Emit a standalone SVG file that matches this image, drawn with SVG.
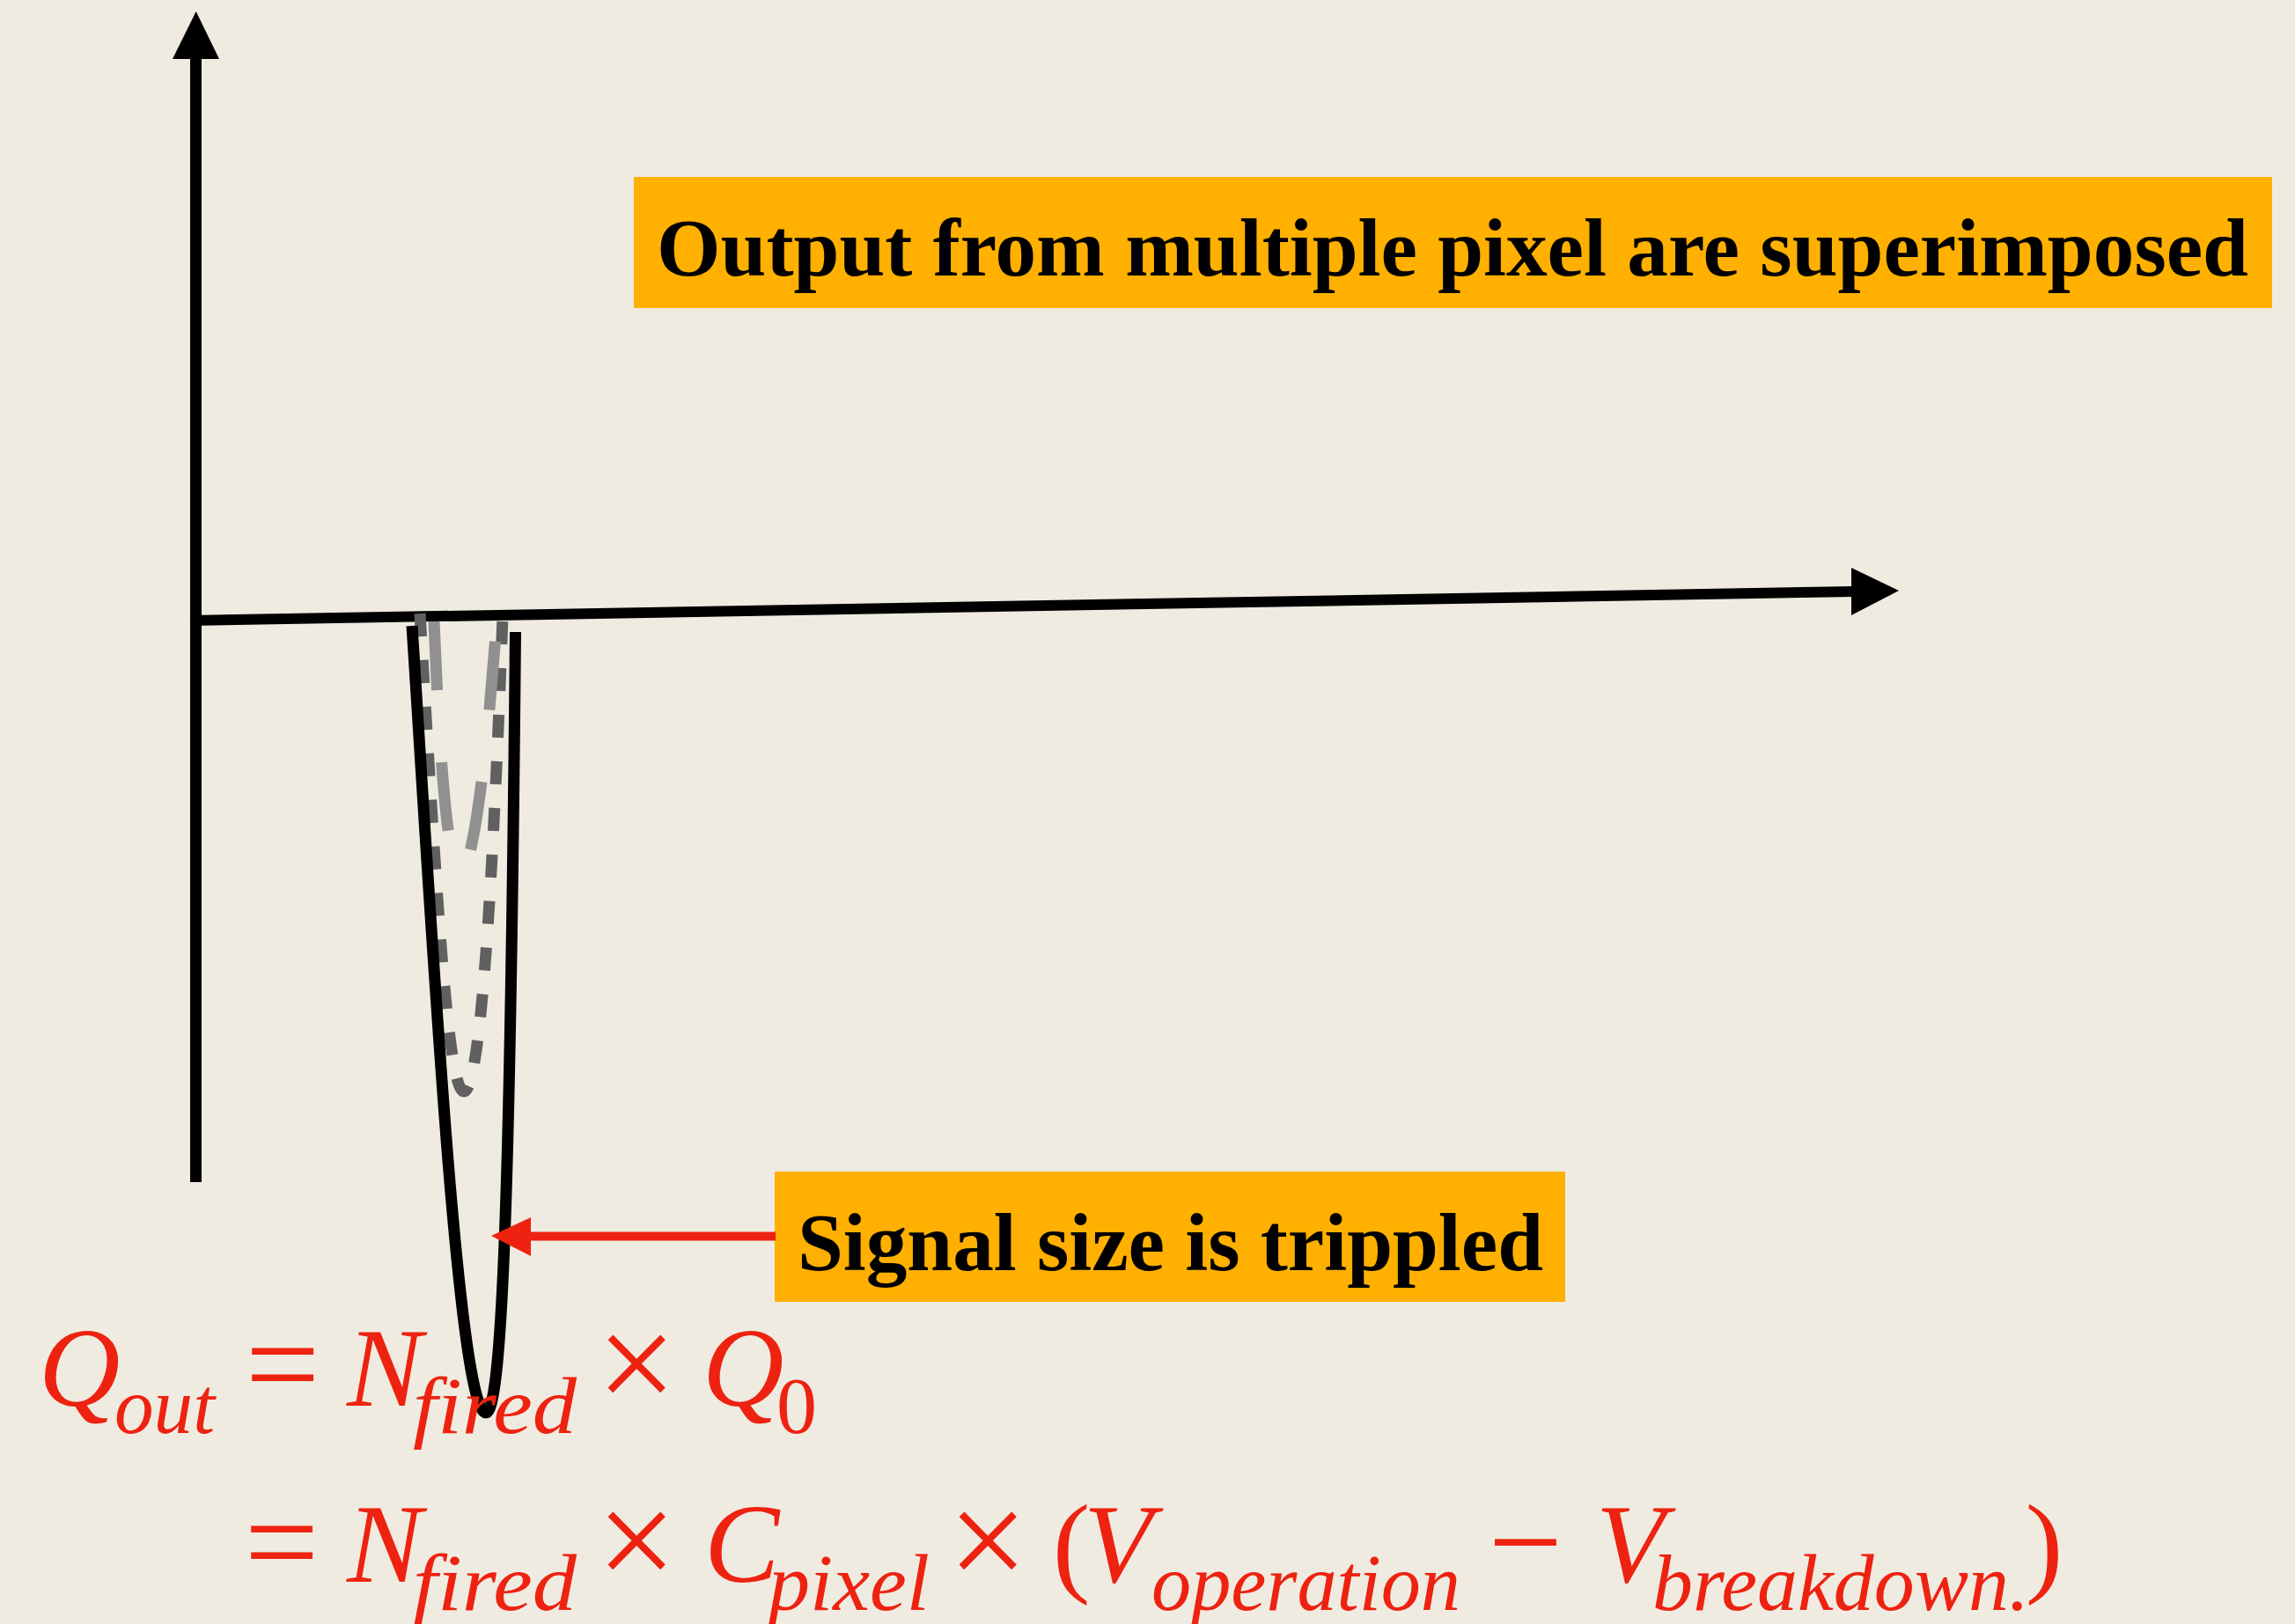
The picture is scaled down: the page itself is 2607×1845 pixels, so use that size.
<svg xmlns="http://www.w3.org/2000/svg" width="2607" height="1845" viewBox="0 0 2607 1845">
<style>
.ax{stroke:#000;stroke-width:12;fill:none}
.head{fill:#000}
.lbl{font-family:"Liberation Serif",serif;font-weight:bold;fill:#000}
.box{fill:#FFB000}
.m{font-family:"Liberation Serif",serif;font-style:italic;fill:#EE2210;font-size:128px}
.s{font-family:"Liberation Serif",serif;font-style:italic;fill:#EE2210;font-size:92px}
.op{font-family:"Liberation Serif",serif;fill:#EE2210;font-size:150px;text-anchor:middle}
.x{font-family:"Liberation Serif",serif;fill:#EE2210;font-size:160px;text-anchor:middle}
.p{font-family:"Liberation Serif",serif;fill:#EE2210;font-size:128px;text-anchor:middle}
</style>
<rect width="2607" height="1845" fill="#EFEBE1"/>
<g id="axes">
<line class="ax" x1="222.5" y1="60" x2="222.5" y2="1343" style="stroke-width:13"/>
<polygon class="head" points="196,67 249,67 222.7,13"/>
<line class="ax" x1="216" y1="705" x2="2106" y2="672"/>
<polygon class="head" points="2103,645 2103,699 2157,671"/>
</g>
<g id="pulses">
<path d="M477,697 C495,1000 508,1240 527,1240 C546,1240 560,1000 571,700" fill="none" stroke="#606060" stroke-width="13" stroke-dasharray="26 27"/>
<path d="M493,706 C500,880 510,992 523,992 C536,992 552,870 563,722" fill="none" stroke="#909090" stroke-width="13" stroke-dasharray="78 82"/>
<path d="M468,711 C490,1050 520,1605 552,1605 C572,1605 580,1300 585.5,718" fill="none" stroke="#000" stroke-width="13"/>
</g>
<g id="label-top">
<rect class="box" x="720" y="201" width="1861" height="149"/>
<text class="lbl" x="746" y="313" font-size="94" textLength="1808" lengthAdjust="spacingAndGlyphs">Output from multiple pixel are superimposed</text>
</g>
<g id="label-signal">
<rect class="box" x="880" y="1331" width="898" height="148"/>
<text class="lbl" x="906" y="1443" font-size="94" textLength="847" lengthAdjust="spacingAndGlyphs">Signal size is trippled</text>
</g>
<g id="connectors">
<line x1="600" y1="1404.5" x2="881" y2="1404.5" stroke="#EE2210" stroke-width="10"/>
<polygon points="558,1404 603,1383 603,1427" fill="#EE2210"/>
</g>
<g id="formula">
<text class="m" x="44" y="1597">Q</text>
<text class="s" x="130" y="1628" textLength="114" lengthAdjust="spacingAndGlyphs">out</text>
<text class="op" x="321" y="1600">=</text>
<text class="m" x="394" y="1597">N</text>
<text class="s" x="469" y="1628" textLength="186" lengthAdjust="spacingAndGlyphs">fired</text>
<text class="x" x="723" y="1603">×</text>
<text class="m" x="798" y="1597">Q</text>
<text class="s" x="882" y="1628" style="font-style:normal">0</text>
<text class="op" x="320" y="1802">=</text>
<text class="m" x="394" y="1797">N</text>
<text class="s" x="469" y="1829" textLength="186" lengthAdjust="spacingAndGlyphs">fired</text>
<text class="x" x="723" y="1804">×</text>
<text class="m" x="800" y="1797">C</text>
<text class="s" x="873" y="1829" textLength="183" lengthAdjust="spacingAndGlyphs">pixel</text>
<text class="x" x="1122" y="1804">×</text>
<text class="p" x="1217" y="1797">(</text>
<text class="m" x="1231" y="1797">V</text>
<text class="s" x="1308" y="1829" textLength="351" lengthAdjust="spacingAndGlyphs">operation</text>
<text class="op" x="1733" y="1802">−</text>
<text class="m" x="1813" y="1797">V</text>
<text class="s" x="1877" y="1829" textLength="428" lengthAdjust="spacingAndGlyphs">breakdown.</text>
<text class="p" x="2322" y="1797">)</text>
</g>
</svg>
